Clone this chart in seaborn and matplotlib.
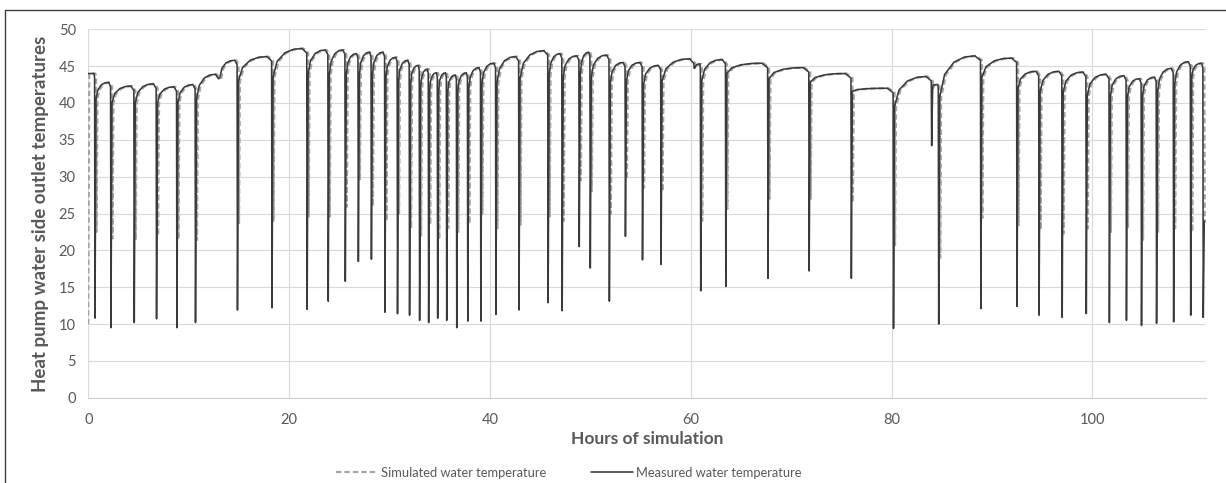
import matplotlib
matplotlib.use("Agg")
import matplotlib.pyplot as plt
from matplotlib.lines import Line2D
import seaborn as sns

# ---- data ----
# hour of each sharp drop in the measured trace
dip_hours = [0.67, 2.26, 4.58, 6.8, 8.83, 10.68, 13.0, 14.86, 18.3, 21.8,
             23.9, 25.6, 26.9, 28.2, 29.55, 30.8, 32.0, 33.0, 33.9, 34.8,
             35.7, 36.7, 37.8, 39.1, 40.6, 42.9, 45.8, 47.2, 48.9, 50.0,
             51.9, 53.5, 55.2, 57.05, 60.35, 61.0, 63.5, 67.7, 71.8, 76.0,
             80.2, 84.0, 84.7, 88.9, 92.5, 94.7, 97.0, 99.4, 101.7, 103.4,
             104.9, 106.4, 108.1, 109.8, 111.05]
# lowest measured temperature at each drop
meas_low = [10.8, 9.5, 10.2, 10.7, 9.5, 10.2, 43.3, 11.9, 12.2, 12.0,
            13.1, 15.8, 18.5, 18.8, 11.6, 11.4, 11.2, 10.5, 10.2, 10.8,
            10.5, 9.5, 10.4, 10.4, 11.3, 11.9, 12.9, 11.8, 20.5, 17.6,
            13.1, 21.9, 18.7, 18.1, 44.7, 14.5, 15.1, 16.2, 17.2, 16.2,
            9.4, 34.2, 10.0, 12.1, 12.4, 11.2, 10.9, 11.4, 10.2, 10.5,
            9.8, 10.1, 10.3, 11.2, 10.9]
# lowest simulated temperature at each drop
sim_low = [22.5, 21.6, 21.4, 22.0, 21.5, 21.4, 43.4, 23.7, 24.0, 24.6,
           24.6, 25.9, 29.5, 26.0, 24.0, 25.0, 23.0, 22.0, 23.5, 21.5,
           23.0, 22.5, 23.6, 25.0, 23.0, 23.5, 24.6, 24.0, 29.5, 28.0,
           25.0, 29.7, 28.5, 28.0, 45.0, 24.0, 25.6, 27.0, 27.0, 26.5,
           20.7, 42.0, 19.0, 24.4, 23.4, 22.8, 22.3, 23.0, 22.5, 23.0,
           21.3, 22.5, 23.0, 22.5, 23.9]
# top of the arch just before each drop
peak_before = [44.0, 42.8, 42.3, 42.6, 42.2, 42.5, 43.9, 45.8, 46.3, 47.4,
               47.2, 47.2, 46.7, 46.9, 46.9, 46.2, 45.8, 45.1, 44.6, 44.1,
               44.1, 43.8, 44.1, 44.8, 45.4, 46.3, 47.1, 46.7, 46.4, 46.9,
               46.5, 45.5, 45.5, 45.1, 46.0, 45.3, 45.9, 45.4, 44.8, 44.0,
               42.0, 43.6, 42.5, 46.4, 46.1, 44.3, 44.3, 44.2, 43.9, 43.7,
               43.3, 43.5, 44.7, 45.6, 45.4]
# temperature reached right after the fast recovery from each drop
knee_after = [40.5, 40.0, 40.0, 40.0, 40.0, 40.5, 43.4, 43.0, 43.5, 44.0,
              43.8, 43.8, 43.8, 43.8, 43.5, 43.0, 42.5, 42.0, 41.7, 41.7,
              41.5, 41.5, 42.0, 42.5, 42.7, 43.3, 43.8, 43.5, 43.8, 43.5,
              42.8, 43.0, 42.5, 43.0, 44.8, 43.0, 44.0, 43.3, 42.8, 41.6,
              39.5, 42.3, 40.8, 43.5, 42.0, 41.5, 41.5, 41.0, 41.0, 40.8,
              41.0, 41.5, 42.5, 43.5, 24.0]

meas_start_hours = [0.0]
meas_start_temps = [44.0]
sim_start_hours = [0.0, 0.1]
sim_start_temps = [10.0, 44.0]
sim_lag = 0.15  # simulated drops sit slightly right of the measured ones

x_ticks = [0, 20, 40, 60, 80, 100]
y_ticks = [0, 5, 10, 15, 20, 25, 30, 35, 40, 45, 50]

# where along each arch the shape points sit (fraction of the arch, share of the rise done)
ARCH_POS = [0.12, 0.35, 0.6]
ARCH_RISE = [0.55, 0.85, 0.97]


def build_trace(start_h, start_t, lows, lag):
    """Chain the read key points (arch top, drop, recovery) into one polyline."""
    xs, ys = list(start_h), list(start_t)
    for i, t_dip in enumerate(dip_hours):
        t = t_dip + lag
        peak = peak_before[i]
        t_prev, v_prev = xs[-1], ys[-1]
        span = t - t_prev
        for f, r in zip(ARCH_POS, ARCH_RISE):
            xs.append(t_prev + f * span)
            ys.append(v_prev + r * (peak - v_prev))
        xs += [t - 0.15 * span, t - 0.04, t, t + 0.1]
        ys += [peak, peak - 0.6, lows[i], knee_after[i]]
    return xs, ys


sim_x, sim_y = build_trace(sim_start_hours, sim_start_temps, sim_low, sim_lag)
meas_x, meas_y = build_trace(meas_start_hours, meas_start_temps, meas_low, 0.0)

sns.set_style("white")
plt.rcParams['font.family'] = ['Lato', 'DejaVu Sans']

fig = plt.figure(figsize=(12.26, 4.83), dpi=100)
ax = fig.add_axes([0.072, 0.1766, 0.9115, 0.7627])

sns.lineplot(x=sim_x, y=sim_y, ax=ax, sort=False, estimator=None,
             color='#a6a6a6', linewidth=1.6, linestyle=(0, (2.4, 1.4)),
             label='Simulated water temperature')
sns.lineplot(x=meas_x, y=meas_y, ax=ax, sort=False, estimator=None,
             color='#3a3a3a', linewidth=1.15,
             label='Measured water temperature')

ax.set_xlim(0, 111.3)
ax.set_ylim(0, 50)
ax.set_xticks(x_ticks)
ax.set_yticks(y_ticks)
ax.grid(True, color='#d9d9d9', linewidth=0.8)
ax.set_axisbelow(True)
for side in ['top', 'right', 'left']:
    ax.spines[side].set_visible(False)
ax.spines['bottom'].set_color('#d0d0d0')
ax.tick_params(axis='both', length=0, labelsize=10.5, labelcolor='#595959')
ax.tick_params(axis='x', pad=11)
ax.tick_params(axis='y', pad=9)

ax.set_xlabel('Hours of simulation', fontsize=12.5, fontweight='bold', color='#595959', labelpad=3)
ax.set_ylabel('Heat pump water side outlet temperatures', fontsize=13.5,
              fontweight='bold', color='#595959', labelpad=7)

ax.get_legend().remove()
handles, labels = ax.get_legend_handles_labels()
fig.legend(handles, labels, loc='center', bbox_to_anchor=(569 / 1226, 10 / 483),
           ncol=2, frameon=False, fontsize=9.3, labelcolor='#595959',
           handlelength=3.2, columnspacing=3.5, handletextpad=0.25)

# outer chart-area frame (clipped at right and bottom in the reference)
fig.add_artist(Line2D([5 / 1226, 5 / 1226], [0, 1 - 10 / 483], transform=fig.transFigure,
                      color='#404040', linewidth=1.0))
fig.add_artist(Line2D([5 / 1226, 1], [1 - 10 / 483, 1 - 10 / 483], transform=fig.transFigure,
                      color='#404040', linewidth=1.0))

fig.savefig('out.png', dpi=100)
